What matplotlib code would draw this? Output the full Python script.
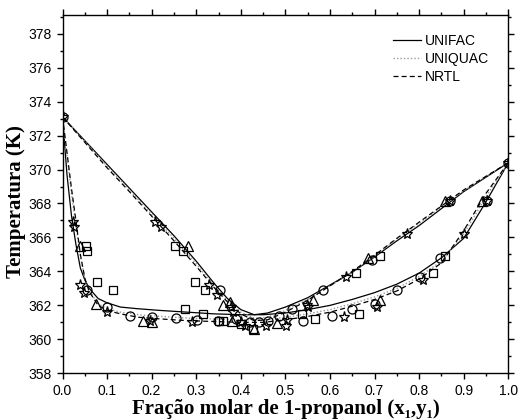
import matplotlib
matplotlib.use("Agg")
import matplotlib.pyplot as plt
from matplotlib.ticker import MultipleLocator

# Experimental points (x or y of 1-propanol, temperature in K), one set per marker
sq_x = [0.052, 0.054, 0.078, 0.113, 0.252, 0.270, 0.274, 0.297, 0.314, 0.320, 0.350,
        0.360, 0.400, 0.427, 0.538, 0.566, 0.658, 0.665, 0.712, 0.830, 0.858]
sq_t = [365.5, 365.2, 363.4, 362.9, 365.5, 365.2, 361.8, 363.4, 361.5, 362.9, 361.1,
        361.1, 360.9, 360.6, 361.5, 361.2, 363.9, 361.5, 364.9, 363.9, 364.9]

tri_x = [0.039, 0.074, 0.180, 0.200, 0.282, 0.359, 0.376, 0.380, 0.430, 0.480,
         0.561, 0.686, 0.712, 0.857, 0.940]
tri_t = [365.5, 362.1, 361.1, 361.05, 365.5, 362.0, 362.2, 361.1, 360.6, 360.95,
         362.3, 364.8, 362.3, 368.15, 368.15]

circ_x = [0.000, 0.054, 0.100, 0.151, 0.200, 0.254, 0.301, 0.348, 0.353, 0.390, 0.420,
          0.440, 0.460, 0.486, 0.515, 0.539, 0.585, 0.605, 0.650, 0.694, 0.700, 0.751,
          0.802, 0.847, 0.869, 0.953, 1.000]
circ_t = [373.1, 362.9, 361.9, 361.35, 361.3, 361.25, 361.15, 361.1, 362.9, 361.2, 361.05,
          361.0, 361.1, 361.4, 361.8, 361.1, 362.9, 361.35, 361.8, 364.7, 362.1, 362.9,
          363.7, 364.8, 368.15, 368.15, 370.4]

star_x = [0.000, 0.023, 0.025, 0.039, 0.049, 0.099, 0.196, 0.207, 0.220, 0.290, 0.329,
          0.346, 0.377, 0.383, 0.400, 0.410, 0.456, 0.501, 0.503, 0.548, 0.551, 0.631,
          0.635, 0.705, 0.772, 0.808, 0.869, 0.901, 0.953, 1.000]
star_t = [373.1, 366.9, 366.6, 363.2, 362.7, 361.6, 361.1, 366.9, 366.6, 361.0, 363.2,
          362.6, 361.9, 361.6, 361.0, 360.8, 360.8, 360.8, 361.15, 362.0, 361.9, 361.3,
          363.65, 361.9, 366.2, 363.5, 368.15, 366.2, 368.15, 370.4]

# Model curves: lower branch (liquid) and upper branch (vapour)
low_x = [0, 0.01, 0.02, 0.03, 0.04, 0.05, 0.06, 0.08, 0.10, 0.13, 0.17, 0.22, 0.28,
         0.34, 0.40, 0.45, 0.50, 0.55, 0.60, 0.65, 0.70, 0.75, 0.80, 0.85, 0.90, 0.95, 1.0]
unifac_low = [373.1, 369.7, 367.3, 365.6, 364.2, 363.5, 363.0, 362.4, 362.15, 361.9, 361.8,
              361.7, 361.6, 361.5, 361.45, 361.45, 361.55, 361.75, 362.0, 362.35, 362.75,
              363.25, 363.9, 364.8, 365.95, 368.1, 370.4]
uniquac_low = [373.1, 370.8, 368.6, 366.7, 364.9, 363.6, 362.85, 362.1, 361.8, 361.6, 361.45,
               361.35, 361.25, 361.2, 361.15, 361.15, 361.3, 361.5, 361.75, 362.1, 362.5,
               363.0, 363.7, 364.6, 366.2, 368.4, 370.4]
nrtl_low = [373.1, 371.0, 368.9, 367.0, 365.0, 363.6, 362.8, 362.0, 361.7, 361.5, 361.3,
            361.2, 361.1, 361.05, 361.0, 361.0, 361.15, 361.35, 361.6, 361.95, 362.35,
            362.85, 363.55, 364.5, 366.4, 368.6, 370.4]

up_x = [0, 0.05, 0.10, 0.15, 0.20, 0.25, 0.30, 0.34, 0.37, 0.40, 0.43, 0.46, 0.50,
        0.55, 0.60, 0.65, 0.70, 0.75, 0.80, 0.85, 0.90, 0.95, 1.0]
unifac_up = [373.1, 371.7, 370.3, 368.9, 367.5, 366.1, 364.6, 363.3, 362.4, 361.75, 361.45,
             361.55, 361.9, 362.45, 363.2, 363.95, 364.85, 365.8, 366.7, 367.7, 368.7,
             369.55, 370.4]
uniquac_up = [373.1, 371.65, 370.2, 368.8, 367.35, 365.95, 364.45, 363.15, 362.3, 361.6,
              361.25, 361.3, 361.7, 362.35, 363.15, 363.95, 364.9, 365.9, 366.8, 367.8,
              368.75, 369.6, 370.4]
nrtl_up = [373.1, 371.6, 370.1, 368.7, 367.25, 365.8, 364.3, 363.05, 362.2, 361.5, 361.1,
           361.15, 361.6, 362.3, 363.15, 364.0, 364.95, 365.95, 366.9, 367.85, 368.8,
           369.6, 370.4]

fig = plt.figure(figsize=(5.18, 4.2), dpi=100)
ax = fig.add_axes([0.1207, 0.1112, 0.8606, 0.8531])

ax.plot(low_x, unifac_low, color="black", lw=0.9, label="UNIFAC")
ax.plot(up_x, unifac_up, color="black", lw=0.9)
ax.plot(low_x, uniquac_low, color="#9a9a9a", lw=1.0, ls=(0, (1, 1.5)), label="UNIQUAC")
ax.plot(up_x, uniquac_up, color="#9a9a9a", lw=1.0, ls=(0, (1, 1.5)))
ax.plot(low_x, nrtl_low, color="black", lw=0.9, ls=(0, (4, 2.5)), label="NRTL")
ax.plot(up_x, nrtl_up, color="black", lw=0.9, ls=(0, (4, 2.5)))

mk = dict(ls="none", mfc="none", mec="black", mew=0.9)
ax.plot(sq_x, sq_t, marker="s", ms=5.5, **mk)
ax.plot(tri_x, tri_t, marker="^", ms=7, **mk)
ax.plot(circ_x, circ_t, marker="o", ms=6.5, **mk)
ax.plot(star_x, star_t, marker="*", ms=8, **mk)

ax.set_xlim(0, 1.0)
ax.set_ylim(358, 379.1)
ax.xaxis.set_major_locator(MultipleLocator(0.1))
ax.xaxis.set_minor_locator(MultipleLocator(0.05))
ax.yaxis.set_major_locator(MultipleLocator(2))
ax.yaxis.set_minor_locator(MultipleLocator(1))
ax.tick_params(which="both", direction="out", top=True, right=True,
               labeltop=False, labelright=False, width=1.0, labelsize=10)
ax.tick_params(which="major", length=4.5)
ax.tick_params(which="minor", length=2.5)
for lab in ax.get_xticklabels() + ax.get_yticklabels():
    lab.set_family("Liberation Sans")
for s in ax.spines.values():
    s.set_linewidth(1.0)

ax.set_xlabel("Fração molar de 1-propanol (x\u2081,y\u2081)", fontsize=15,
              fontweight="bold", family=["Liberation Serif", "DejaVu Serif"])
ax.set_ylabel("Temperatura (K)", fontsize=15, fontweight="bold",
              family=["Liberation Serif", "DejaVu Serif"])
ax.xaxis.set_label_coords(0.5, -0.072)
ax.yaxis.set_label_coords(-0.081, 0.478)

leg = ax.legend(loc="upper right", frameon=False, prop={"family": "Liberation Sans", "size": 10},
                handlelength=2.0, handletextpad=0.3, labelspacing=0.3,
                bbox_to_anchor=(0.985, 0.982))

fig.savefig("out.png", dpi=100)
